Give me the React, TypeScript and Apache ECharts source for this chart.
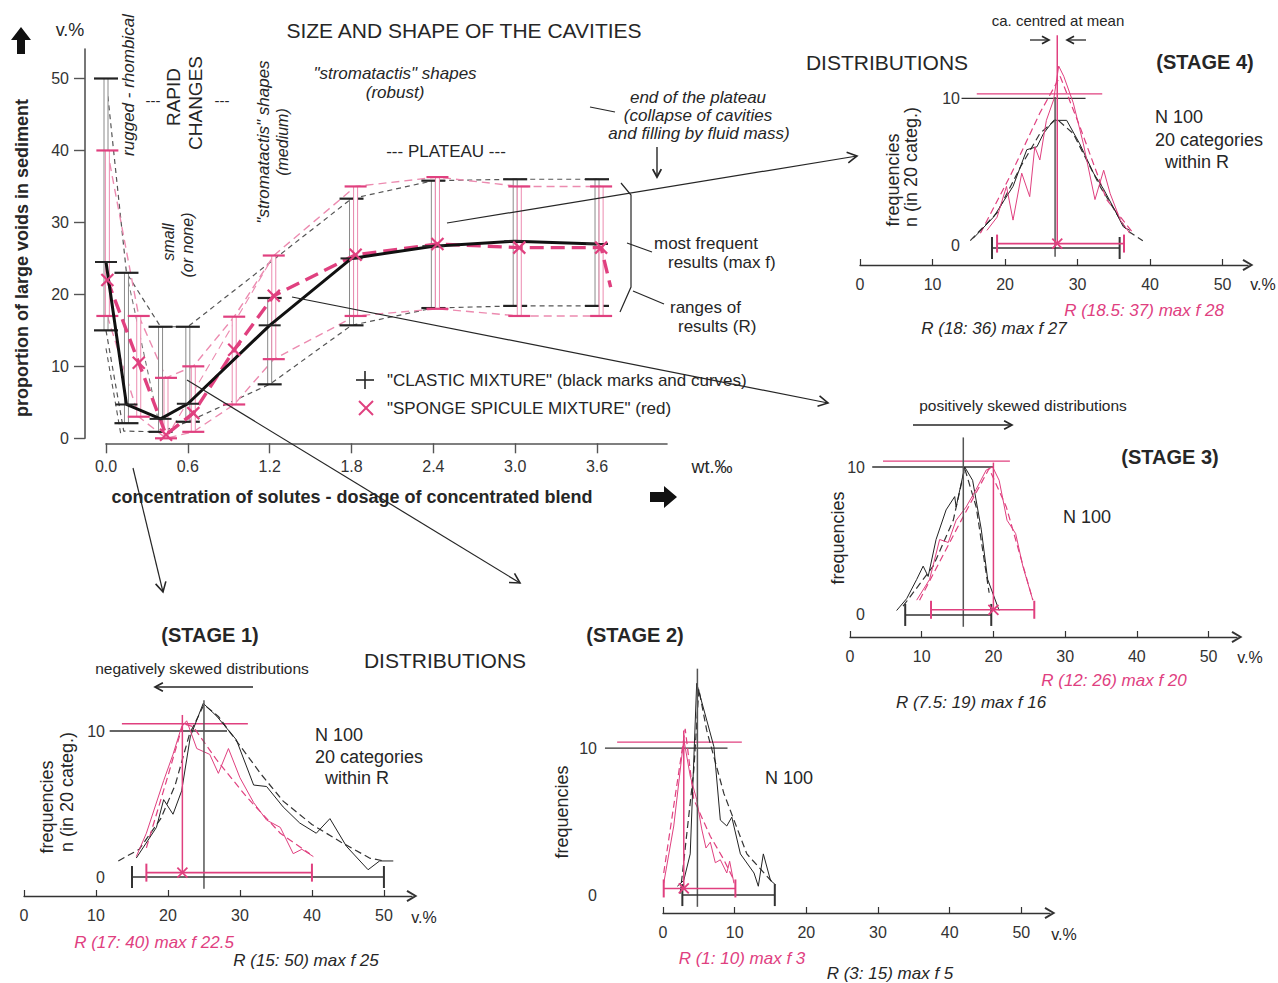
import React, { useEffect, useRef } from 'react';
import * as echarts from 'echarts';

const FONT = '"Liberation Sans", Arial, Helvetica, sans-serif';
const INK = '#262626';
const PINK = '#e0407f';
const PINK_SOFT = '#ec8bb0';
const GRAY = '#8a8a8a';

// ---------------- main chart data ----------------
const mainXTicks = [0, 0.6, 1.2, 1.8, 2.4, 3.0, 3.6];
const mainYTicks = [0, 10, 20, 30, 40, 50];

// "CLASTIC MIXTURE" (black)
const clasticX = [0, 0.15, 0.4, 0.6, 1.2, 1.8, 2.4, 3.0, 3.6];
const clasticLow = [15, 2.1, 0.9, 2.3, 7.5, 15.7, 18.1, 18.4, 18.4];
const clasticHigh = [50, 23, 15.5, 15.5, 19.5, 33.3, 35.8, 36, 36];
const clasticMode = [24.5, 4.7, 2.7, 4.8, 15.7, 25, 26.7, 27.4, 27];

// "SPONGE SPICULE MIXTURE" (red)
const spongeX = [0.01, 0.24, 0.44, 0.64, 0.94, 1.23, 1.83, 2.43, 3.03, 3.63];
const spongeLow = [17, 3, 0, 0.9, 4.7, 11, 17, 18, 17, 17];
const spongeHigh = [40, 17, 8.4, 10, 16.9, 25.4, 35, 36.3, 35, 35];
const spongeMode = [22, 10.5, 0.5, 3.5, 12.3, 19.8, 25.5, 27, 26.5, 26.5];
const spongeTail = [3.7, 21];

// range envelopes (dashed)
const clasticUpperEnv = [[0, 50], [0.15, 23], [0.4, 15.5], [0.6, 15.5], [1.8, 33.3], [2.4, 35.8], [3.0, 36], [3.6, 36]];
const clasticLowerEnv = [[0, 15], [0.13, 1], [0.4, 0.9], [0.6, 2.3], [1.2, 7.5], [1.8, 15.7], [2.4, 18.1], [3.0, 18.4], [3.6, 18.4]];
const clasticExtraEnv = [[0, 12.5], [0.11, 0.4]];
const clasticUpperBranch = [[0.15, 23], [0.4, 1]];
const spongeUpperEnv = [[0.01, 40], [0.24, 17], [0.44, 8.4], [0.64, 10], [0.94, 16.9], [1.23, 25.4], [1.83, 35], [2.43, 36.3], [3.03, 35], [3.63, 35]];
const spongeLowerEnv = [[0.01, 17], [0.24, 3], [0.44, 0], [0.64, 0.9], [0.94, 4.7], [1.23, 11], [1.83, 17], [2.43, 18], [3.03, 17], [3.63, 17]];
const spongeExtraEnv = [[0.44, 0], [1.23, 25.4]];

// ---------------- distribution data (v.% , frequency) ----------------
const stageTicks = [0, 10, 20, 30, 40, 50];
const freqTicks = [0, 10];

// STAGE 1
const s1ClasticCurve = [[15.6, 1.3], [18.4, 3.4], [19.4, 5.3], [20.7, 4.3], [21.9, 5.9], [23.1, 9.6], [24.9, 11.9], [26.8, 11], [29.5, 9.4], [31.9, 6.3], [33.7, 6.2], [36, 4.8], [38.3, 3.7], [40.6, 3], [42.5, 4], [44.8, 2.1], [47.8, 0.5], [49.4, 1.1], [51.3, 1.1]];
const s1ClasticFit = [[13.1, 1.1], [16, 1.9], [19, 4], [21, 6.3], [23, 9.8], [25, 11.8], [27, 11], [30, 9], [33, 7], [36, 5.2], [40, 3.6], [44, 2.4], [48, 1.3], [50, 1.1]];
const s1SpongeCurve = [[15.6, 1.4], [17, 3], [19.4, 6.6], [20.7, 8.4], [21.9, 10.3], [22.6, 10.7], [24, 8.8], [25.8, 8.4], [27, 7.1], [28.4, 8.8], [30, 6.8], [31.9, 5.1], [33.7, 3.9], [35.6, 3.4], [37.4, 1.6], [38.6, 1.9], [40.2, 1.4]];
const s1SpongeFit = [[17, 2], [19.8, 6.6], [22.1, 10.5], [23.5, 10.3], [26.8, 8], [30.9, 5.5], [35.6, 3], [39.7, 1.6]];
const s1Ranges = [[15, 50, 0, 0], [17, 40, 0.3, 1]];
const s1Modes = [[25, 12.1], [22, 11.1]];
const s1Refs = [[11.9, 28.2, 10], [13.6, 31.1, 10.5]];

// STAGE 2
const s2ClasticCurve = [[2, 0.6], [2.9, 1], [3.8, 2.8], [4.7, 14.4], [6.1, 11.9], [7.1, 10.1], [8, 5.1], [8.9, 4.7], [9.6, 5.3], [10.8, 2.8], [12.7, 1.5], [13.3, 0.6], [14, 2.8], [15, 1], [15.7, 0.7]];
const s2ClasticFit = [[2.4, 0.1], [4.3, 8.5], [5, 14], [6.1, 11.2], [8.5, 6.9], [11.7, 2.8], [15.4, 0.8]];
const s2SpongeCurve = [[0.1, 0.8], [1.5, 4.7], [2.9, 10.6], [3.8, 8.1], [4.7, 6.5], [5.4, 4.5], [6, 3.2], [6.6, 3.6], [7.3, 2.2], [8, 2.4], [8.9, 1.5], [9.3, 2.3], [9.9, 0.8]];
const s2SpongeFit = [[0.1, 1.5], [3.1, 11.3], [4.3, 6.5], [6.6, 4], [8.5, 2.4], [9.9, 1]];
const s2Ranges = [[2.7, 15.6, 0, 0], [0.1, 10.1, 0.45, 1]];
const s2Modes = [[4.8, 15.4], [2.9, 11.2]];
const s2Refs = [[-8.1, 9, 10], [-6.4, 11, 10.4]];

// STAGE 3
const s3ClasticCurve = [[6.5, 0.3], [7.9, 1.1], [9.3, 2.4], [10.2, 3.3], [10.9, 2.6], [12, 5.1], [13.4, 7.1], [14.6, 8], [14.8, 7.3], [16, 10], [17.1, 9.1], [18.3, 5.8], [19.2, 2.4], [20.8, 0.3]];
const s3ClasticFit = [[7.4, 0.6], [11.6, 3.3], [14.4, 6.4], [16, 9.9], [17.6, 7.3], [19.4, 1.5]];
const s3SpongeCurve = [[9.3, 1], [11.1, 2.4], [12.5, 5.1], [13.7, 4.9], [14.8, 6.4], [16.2, 7.3], [17.6, 8.5], [19, 9.8], [19.9, 10], [20.8, 9.1], [21.9, 6.4], [23.1, 5.5], [24.1, 3.3], [25.5, 1]];
const s3SpongeFit = [[9.7, 1], [15.3, 6.2], [19.4, 9.9], [21.8, 7.3], [25.5, 1]];
const s3Ranges = [[7.7, 19.7, 0, 0], [11.3, 25.7, 0.35, 1]];
const s3Modes = [[15.8, 12], [20, 10.3]];
const s3Refs = [[3.1, 20, 10], [4.6, 22.3, 10.4]];

// STAGE 4
const s4ClasticCurve = [[15.6, 0.45], [18.4, 1.9], [21.1, 4], [23, 6.5], [24.4, 6.7], [25.3, 7.6], [26.7, 8.5], [28.5, 8.5], [30.3, 6.9], [32.2, 4.9], [33.6, 3.8], [34.9, 2.6], [36.3, 1.25], [37.2, 1]];
const s4ClasticFit = [[15.2, 0.3], [18.9, 2.2], [22.1, 5.3], [24.8, 7.6], [27.1, 8.6], [29.4, 7.6], [33.1, 4], [36.8, 1], [39, 0.3]];
const s4SpongeCurve = [[17.5, 1], [18.9, 1.9], [20.2, 4], [21.1, 1.7], [22.3, 4.9], [23.4, 3.3], [24.1, 6.7], [24.8, 5.8], [25.7, 8.5], [26.7, 9.9], [27.4, 12.2], [28.1, 11.5], [29.4, 9.7], [30.8, 6.9], [32.4, 3.1], [33.6, 5.1], [34.5, 3.5], [35.9, 1.7], [37.2, 0.8]];
const s4SpongeFit = [[16.6, 0.8], [20.7, 4.7], [24.8, 9], [27.6, 11.5], [30.3, 8.1], [34, 3.1], [37.7, 0.8]];
const s4Ranges = [[18.2, 35.8, -0.2, 0], [18.9, 36.4, 0.1, 1]];
const s4Modes = [[26.9, 10.1], [27.2, 14.3]];
const s4Refs = [[14, 31.1, 10], [16.1, 33.4, 10.3]];

const stages = [
  { clCurve: s1ClasticCurve, clFit: s1ClasticFit, spCurve: s1SpongeCurve, spFit: s1SpongeFit, ranges: s1Ranges, modes: s1Modes, refs: s1Refs },
  { clCurve: s2ClasticCurve, clFit: s2ClasticFit, spCurve: s2SpongeCurve, spFit: s2SpongeFit, ranges: s2Ranges, modes: s2Modes, refs: s2Refs },
  { clCurve: s3ClasticCurve, clFit: s3ClasticFit, spCurve: s3SpongeCurve, spFit: s3SpongeFit, ranges: s3Ranges, modes: s3Modes, refs: s3Refs },
  { clCurve: s4ClasticCurve, clFit: s4ClasticFit, spCurve: s4SpongeCurve, spFit: s4SpongeFit, ranges: s4Ranges, modes: s4Modes, refs: s4Refs },
];

// layout of the stage panels (pixels)
const stageLayout = [
  { left: 24, top: 690, width: 388, height: 206, xMax: 53.9, yMin: -1.3, yMax: 12.81, yOffset: -86 },
  { left: 663, top: 660, width: 387, height: 253, xMax: 54, yMin: -1.22, yMax: 15.99, yOffset: 61 },
  { left: 850, top: 425, width: 387, height: 212, xMax: 53.97, yMin: -1.49, yMax: 12.84, yOffset: -20 },
  { left: 860, top: 25, width: 388, height: 240, xMax: 53.5, yMin: -1.36, yMax: 15, yOffset: -105 },
];

// ---------------- renderers ----------------
const makeBarRender = (barStroke: string, capStroke: string, capHalf: number) => (_p: any, api: any) => {
  const x = api.value(0);
  const a = api.coord([x, api.value(1)]);
  const b = api.coord([x, api.value(2)]);
  const cx = a[0];
  return {
    type: 'group',
    children: [
      { type: 'rect', shape: { x: cx - 2, y: b[1], width: 4, height: a[1] - b[1] }, style: { fill: '#fff', stroke: barStroke, lineWidth: 1 } },
      { type: 'line', shape: { x1: cx - capHalf, y1: b[1], x2: cx + capHalf, y2: b[1] }, style: { stroke: capStroke, lineWidth: 2.2 } },
      { type: 'line', shape: { x1: cx - capHalf, y1: a[1], x2: cx + capHalf, y2: a[1] }, style: { stroke: capStroke, lineWidth: 2.2 } },
    ],
  };
};

const plusRender = (_p: any, api: any) => {
  const p = api.coord([api.value(0), api.value(1)]);
  return { type: 'line', shape: { x1: p[0] - 11, y1: p[1], x2: p[0] + 11, y2: p[1] }, style: { stroke: INK, lineWidth: 2 } };
};

const makeCrossRender = (color: string, s: number, lw: number) => (_p: any, api: any) => {
  const p = api.coord([api.value(0), api.value(1)]);
  return {
    type: 'group',
    children: [
      { type: 'line', shape: { x1: p[0] - s, y1: p[1] - s, x2: p[0] + s, y2: p[1] + s }, style: { stroke: color, lineWidth: lw } },
      { type: 'line', shape: { x1: p[0] - s, y1: p[1] + s, x2: p[0] + s, y2: p[1] - s }, style: { stroke: color, lineWidth: lw } },
    ],
  };
};

const rangeRender = (_p: any, api: any) => {
  const y = api.value(2);
  const kind = api.value(3);
  const a = api.coord([api.value(0), y]);
  const b = api.coord([api.value(1), y]);
  const color = kind === 0 ? '#333' : PINK;
  const half = kind === 0 ? 11 : 9;
  return {
    type: 'group',
    children: [
      { type: 'line', shape: { x1: a[0], y1: a[1], x2: b[0], y2: b[1] }, style: { stroke: color, lineWidth: 1.6 } },
      { type: 'line', shape: { x1: a[0], y1: a[1] - half, x2: a[0], y2: a[1] + half }, style: { stroke: color, lineWidth: 2 } },
      { type: 'line', shape: { x1: b[0], y1: b[1] - half, x2: b[0], y2: b[1] + half }, style: { stroke: color, lineWidth: 2 } },
    ],
  };
};

// horizontal reference line at frequency 10 (may start left of the axis origin)
const refRender = (_p: any, api: any) => {
  const y = api.value(2);
  const kind = api.value(3);
  const a = api.coord([0, y]);
  const b = api.coord([10, y]);
  const k = (b[0] - a[0]) / 10;
  return {
    type: 'line',
    shape: { x1: a[0] + k * api.value(0), y1: a[1], x2: a[0] + k * api.value(1), y2: a[1] },
    style: { stroke: kind === 0 ? '#333' : PINK, lineWidth: 1.3 },
  };
};

// ---------------- graphic helpers ----------------
const txt = (x: number, y: number, text: string, o: any = {}) => ({
  type: 'text',
  x,
  y,
  rotation: o.rot ? Math.PI / 2 : 0,
  silent: true,
  z: 100,
  style: {
    text,
    fill: o.color || INK,
    fontSize: o.size || 16,
    fontFamily: FONT,
    fontStyle: o.italic ? 'italic' : 'normal',
    fontWeight: o.bold ? 'bold' : 'normal',
    align: o.align || 'center',
    textAlign: o.align || 'center',
    verticalAlign: 'middle',
    textVerticalAlign: 'middle',
  },
});

const seg = (x1: number, y1: number, x2: number, y2: number, lw = 1.2, color = INK) => ({
  type: 'line', silent: true, z: 90, shape: { x1, y1, x2, y2 }, style: { stroke: color, lineWidth: lw },
});

const arrow = (x1: number, y1: number, x2: number, y2: number, head = 10, lw = 1.2, color = INK) => {
  const a = Math.atan2(y2 - y1, x2 - x1);
  const h1 = [x2 - head * Math.cos(a - 0.5), y2 - head * Math.sin(a - 0.5)];
  const h2 = [x2 - head * Math.cos(a + 0.5), y2 - head * Math.sin(a + 0.5)];
  return [
    seg(x1, y1, x2, y2, lw, color),
    { type: 'polyline', silent: true, z: 90, shape: { points: [h1, [x2, y2], h2] }, style: { stroke: color, lineWidth: lw + 0.4, fill: null } },
  ];
};

const CHEVRON = 'path://M0,10 L6,0 L12,10 L10.2,11 L6,3.6 L1.8,11 Z';

export default function App() {
  const ref = useRef<HTMLDivElement>(null);

  useEffect(() => {
    if (!ref.current) return;
    const chart = echarts.init(ref.current, undefined, { renderer: 'svg' });

    const grids: any[] = [
      { left: 106, top: 49, width: 561, height: 389.3, outerBoundsMode: 'none' },
    ];
    const xAxes: any[] = [
      {
        type: 'value', gridIndex: 0, min: 0, max: 4.113, offset: 5,
        axisLine: { show: true, onZero: false, lineStyle: { color: '#555', width: 1.6 } },
        axisTick: { show: true, inside: false, length: 10, customValues: mainXTicks, lineStyle: { color: '#555', width: 1.4 } },
        axisLabel: { customValues: mainXTicks, formatter: (v: number) => v.toFixed(1), fontSize: 16, color: '#333', margin: 15, fontFamily: FONT },
        splitLine: { show: false },
      },
    ];
    const yAxes: any[] = [
      {
        type: 'value', gridIndex: 0, min: 0, max: 54.1, offset: 21,
        axisLine: { show: true, onZero: false, lineStyle: { color: '#555', width: 1.6 } },
        axisTick: { show: true, inside: false, length: 11, customValues: mainYTicks, lineStyle: { color: '#555', width: 1.4 } },
        axisLabel: { customValues: mainYTicks, fontSize: 16, color: '#333', margin: 16, fontFamily: FONT },
        splitLine: { show: false },
      },
    ];

    const envLine = (data: number[][], color: string, width: number, dash: number[]) => ({
      type: 'line', xAxisIndex: 0, yAxisIndex: 0, data, symbol: 'none', silent: true, z: 2,
      lineStyle: { color, width, type: dash },
    });

    const series: any[] = [
      envLine(clasticUpperEnv, '#555', 1.2, [5, 4]),
      envLine(clasticLowerEnv, '#555', 1.2, [5, 4]),
      envLine(clasticExtraEnv, '#555', 1.1, [5, 4]),
      envLine(clasticUpperBranch, '#777', 1.1, [5, 4]),
      envLine(spongeUpperEnv, PINK_SOFT, 1.4, [8, 5]),
      envLine(spongeLowerEnv, PINK_SOFT, 1.4, [8, 5]),
      envLine(spongeExtraEnv, PINK_SOFT, 1.1, [8, 5]),
      {
        type: 'custom', xAxisIndex: 0, yAxisIndex: 0, clip: false, z: 3, silent: true,
        renderItem: makeBarRender(GRAY, '#222', 12),
        encode: { x: 0, y: [1, 2] },
        data: clasticX.map((x, i) => [x, clasticLow[i], clasticHigh[i]]),
      },
      {
        type: 'custom', xAxisIndex: 0, yAxisIndex: 0, clip: false, z: 4, silent: true,
        renderItem: makeBarRender(PINK_SOFT, PINK, 11),
        encode: { x: 0, y: [1, 2] },
        data: spongeX.map((x, i) => [x, spongeLow[i], spongeHigh[i]]),
      },
      {
        type: 'line', xAxisIndex: 0, yAxisIndex: 0, symbol: 'none', silent: true, z: 5,
        data: [...spongeX.map((x, i) => [x, spongeMode[i]]), spongeTail],
        lineStyle: { color: PINK, width: 3.4, type: [14, 7] },
      },
      {
        type: 'line', xAxisIndex: 0, yAxisIndex: 0, symbol: 'none', silent: true, z: 6,
        data: clasticX.map((x, i) => [x, clasticMode[i]]),
        lineStyle: { color: '#111', width: 3 },
      },
      {
        type: 'custom', xAxisIndex: 0, yAxisIndex: 0, clip: false, z: 7, silent: true,
        renderItem: plusRender, encode: { x: 0, y: 1 },
        data: clasticX.map((x, i) => [x, clasticMode[i]]),
      },
      {
        type: 'custom', xAxisIndex: 0, yAxisIndex: 0, clip: false, z: 7, silent: true,
        renderItem: makeCrossRender(PINK, 6, 2.2), encode: { x: 0, y: 1 },
        data: spongeX.map((x, i) => [x, spongeMode[i]]),
      },
    ];

    stages.forEach((st, i) => {
      const L = stageLayout[i];
      const gi = i + 1;
      grids.push({ left: L.left, top: L.top, width: L.width, height: L.height, outerBoundsMode: 'none' });
      xAxes.push({
        type: 'value', gridIndex: gi, min: 0, max: L.xMax,
        axisLine: { show: true, onZero: false, symbol: ['none', CHEVRON], symbolSize: [12, 11], lineStyle: { color: '#333', width: 1.3 } },
        axisTick: { show: true, inside: true, length: 6, customValues: stageTicks, lineStyle: { color: '#333', width: 1.2 } },
        axisLabel: { customValues: stageTicks, fontSize: 16, color: '#333', margin: 11, fontFamily: FONT },
        splitLine: { show: false },
      });
      yAxes.push({
        type: 'value', gridIndex: gi, min: L.yMin, max: L.yMax, offset: L.yOffset,
        axisLine: { show: false, onZero: false }, axisTick: { show: false },
        axisLabel: { customValues: freqTicks, fontSize: 16, color: '#333', margin: 5, fontFamily: FONT },
        splitLine: { show: false },
      });
      const base = { xAxisIndex: gi, yAxisIndex: gi, silent: true, clip: false };
      const ln = (data: number[][], color: string, width: number, type: any, z: number) => ({
        ...base, type: 'line', data, symbol: 'none', z, lineStyle: { color, width, type },
      });
      const [cMode, pMode] = st.modes;
      const pRange = st.ranges[1];
      series.push(
        {
          ...base, type: 'custom', z: 2, renderItem: refRender,
          encode: { x: [0, 1], y: 2 }, data: st.refs.map((r, j) => [r[0], r[1], r[2], j]),
        },
        ln(st.clFit, '#333', 1.2, [7, 4], 3),
        ln(st.spFit, PINK, 1.2, [7, 4], 3),
        ln(st.clCurve, '#222', 1, 'solid', 4),
        ln(st.spCurve, PINK, 1, 'solid', 4),
        ln([[cMode[0], -0.8], [cMode[0], cMode[1]]], '#555', 1.5, 'solid', 5),
        ln([[pMode[0], pRange[2]], [pMode[0], pMode[1]]], PINK, 1.5, 'solid', 5),
        {
          ...base, type: 'custom', z: 6, renderItem: rangeRender,
          encode: { x: [0, 1], y: 2 }, data: st.ranges,
        },
        {
          ...base, type: 'custom', z: 7, renderItem: makeCrossRender(PINK, 5, 1.8),
          encode: { x: 0, y: 1 }, data: [[pMode[0], pRange[2]]],
        },
      );
    });

    const graphics: any[] = [
      // main chart annotations
      txt(70, 30, 'v.%', { size: 18 }),
      txt(22, 258, 'proportion of large voids in sediment', { size: 18, bold: true, rot: true }),
      { type: 'polygon', silent: true, z: 90, shape: { points: [[21, 27], [31, 40], [25, 40], [25, 54], [17, 54], [17, 40], [11, 40]] }, style: { fill: '#111' } },
      txt(352, 497, 'concentration of solutes - dosage of concentrated blend', { size: 18, bold: true }),
      { type: 'polygon', silent: true, z: 90, shape: { points: [[677, 497], [664, 486], [664, 492], [650, 492], [650, 502], [664, 502], [664, 508]] }, style: { fill: '#111' } },
      txt(712, 467, 'wt.‰', { size: 18 }),
      txt(464, 30, 'SIZE AND SHAPE OF THE CAVITIES', { size: 21 }),
      txt(395, 73, '"stromatactis" shapes', { size: 17, italic: true }),
      txt(395, 92, '(robust)', { size: 17, italic: true }),
      txt(446, 151, '--- PLATEAU ---', { size: 17 }),
      txt(698, 97, 'end of the plateau', { size: 17, italic: true }),
      txt(698, 115, '(collapse of cavities', { size: 17, italic: true }),
      txt(699, 133, 'and filling by fluid mass)', { size: 17, italic: true }),
      txt(654, 243, 'most frequent', { size: 17, align: 'left' }),
      txt(668, 262, 'results (max f)', { size: 17, align: 'left' }),
      txt(670, 307, 'ranges of', { size: 17, align: 'left' }),
      txt(678, 326, 'results (R)', { size: 17, align: 'left' }),
      txt(387, 380, '"CLASTIC MIXTURE" (black marks and curves)', { size: 17, align: 'left' }),
      txt(387, 408, '"SPONGE SPICULE MIXTURE" (red)', { size: 17, align: 'left' }),
      seg(356, 380, 374, 380, 1.6), seg(365, 371, 365, 389, 1.6),
      seg(359, 401, 373, 415, 2, PINK), seg(359, 415, 373, 401, 2, PINK),
      txt(128, 85, 'rugged - rhombical', { size: 17, italic: true, rot: true }),
      txt(153, 100, '---', { size: 15 }),
      txt(173, 97, 'RAPID', { size: 19, rot: true }),
      txt(195, 103, 'CHANGES', { size: 19, rot: true }),
      txt(222, 100, '---', { size: 15 }),
      txt(168, 242, 'small', { size: 16, italic: true, rot: true }),
      txt(187, 245, '(or none)', { size: 16, italic: true, rot: true }),
      txt(263, 142, '"stromatactis" shapes', { size: 17, italic: true, rot: true }),
      txt(282, 142, '(medium)', { size: 16, italic: true, rot: true }),
      txt(887, 62, 'DISTRIBUTIONS', { size: 21 }),
      txt(445, 660, 'DISTRIBUTIONS', { size: 21 }),
      // bracket and leaders
      { type: 'polyline', silent: true, z: 90, shape: { points: [[621, 183], [631, 195], [631, 287], [620, 312]] }, style: { stroke: INK, lineWidth: 1.2, fill: null } },
      seg(627, 243, 652, 252, 1.2),
      seg(633, 291, 664, 304, 1.2),
      seg(590, 107, 615, 112, 1.2),
      ...arrow(657, 147, 657, 177, 9, 1.4),
      // connectors to distributions
      ...arrow(447, 223, 857, 156, 11, 1.2),
      ...arrow(292, 297, 828, 403, 11, 1.2),
      ...arrow(187, 380, 520, 583, 11, 1.2),
      ...arrow(133, 468, 163, 592, 11, 1.2),
      // stage 4
      txt(1205, 62, '(STAGE 4)', { size: 20, bold: true }),
      txt(1058, 20, 'ca. centred at mean', { size: 15 }),
      ...arrow(1030, 40, 1049, 40, 8, 1.3),
      ...arrow(1086, 40, 1067, 40, 8, 1.3),
      txt(1155, 117, 'N 100', { size: 18, align: 'left' }),
      txt(1155, 140, '20 categories', { size: 18, align: 'left' }),
      txt(1165, 162, 'within R', { size: 18, align: 'left' }),
      txt(893, 180, 'frequencies', { size: 18, rot: true }),
      txt(911, 167, 'n (in 20 categ.)', { size: 18, rot: true }),
      txt(1263, 284, 'v.%', { size: 16 }),
      txt(1144, 310, 'R (18.5: 37) max f 28', { size: 17, italic: true, color: PINK }),
      txt(994, 328, 'R (18: 36) max f 27', { size: 17, italic: true }),
      // stage 3
      txt(1023, 405, 'positively skewed distributions', { size: 15.5 }),
      ...arrow(913, 425, 1012, 425, 9, 1.3),
      txt(1170, 457, '(STAGE 3)', { size: 20, bold: true }),
      txt(1063, 517, 'N 100', { size: 18, align: 'left' }),
      txt(838, 538, 'frequencies', { size: 18, rot: true }),
      txt(1250, 657, 'v.%', { size: 16 }),
      txt(1114, 680, 'R (12: 26) max f 20', { size: 17, italic: true, color: PINK }),
      txt(971, 702, 'R (7.5: 19) max f 16', { size: 17, italic: true }),
      // stage 1
      txt(210, 635, '(STAGE 1)', { size: 20, bold: true }),
      txt(202, 668, 'negatively skewed distributions', { size: 15.5 }),
      ...arrow(253, 687, 155, 687, 9, 1.3),
      txt(315, 735, 'N 100', { size: 18, align: 'left' }),
      txt(315, 757, '20 categories', { size: 18, align: 'left' }),
      txt(325, 778, 'within R', { size: 18, align: 'left' }),
      txt(47, 807, 'frequencies', { size: 18, rot: true }),
      txt(67, 792, 'n (in 20 categ.)', { size: 18, rot: true }),
      txt(424, 917, 'v.%', { size: 16 }),
      txt(154, 942, 'R (17: 40) max f 22.5', { size: 17, italic: true, color: PINK }),
      txt(306, 960, 'R (15: 50) max f 25', { size: 17, italic: true }),
      // stage 2
      txt(635, 635, '(STAGE 2)', { size: 20, bold: true }),
      txt(765, 778, 'N 100', { size: 18, align: 'left' }),
      txt(562, 812, 'frequencies', { size: 18, rot: true }),
      txt(1064, 934, 'v.%', { size: 16 }),
      txt(742, 958, 'R (1: 10) max f 3', { size: 17, italic: true, color: PINK }),
      txt(890, 973, 'R (3: 15) max f 5', { size: 17, italic: true }),
    ];

    chart.setOption({
      animation: false,
      backgroundColor: '#ffffff',
      textStyle: { fontFamily: FONT },
      grid: grids,
      xAxis: xAxes,
      yAxis: yAxes,
      series,
      graphic: { elements: graphics },
    });

    return () => chart.dispose();
  }, []);

  return (
    <div
      ref={ref}
      style={{ position: 'fixed', left: 0, top: 0, width: 1278, height: 983, background: '#fff' }}
    />
  );
}
